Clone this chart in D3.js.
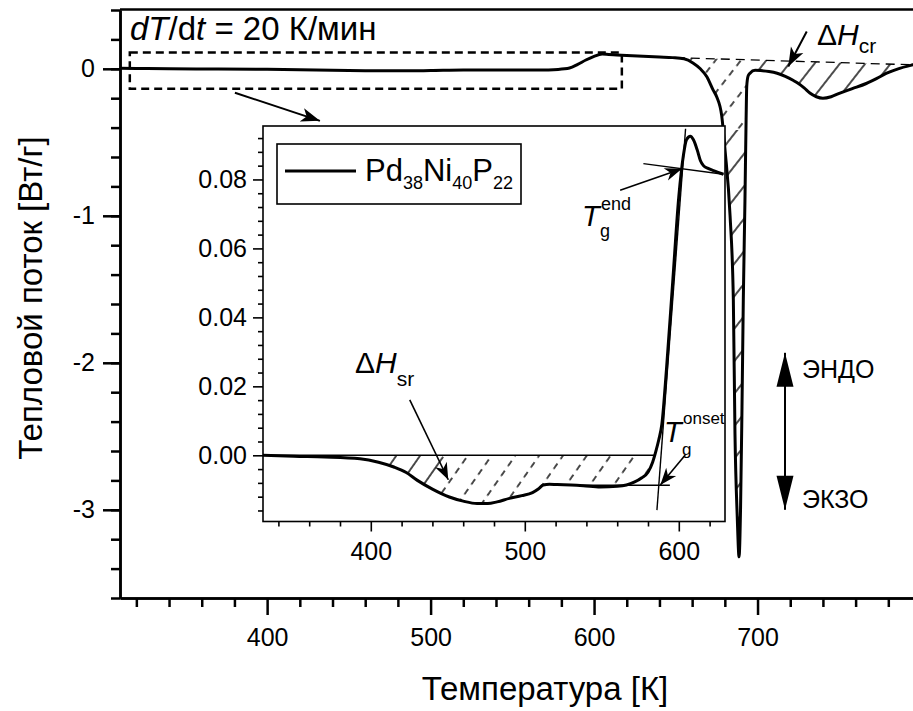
<!DOCTYPE html>
<html>
<head>
<meta charset="utf-8">
<script src="https://d3js.org/d3.v7.min.js"></script>
<style>
body { margin: 0; background: #fff; }
text { font-family: "Liberation Sans", Arial, sans-serif; fill: #000; }
</style>
</head>
<body>
<svg id="chart" width="913" height="711"></svg>
<script>
// main DSC curve, K vs W/g
var mainT = [310, 320, 340, 370, 400, 430, 460, 480, 500, 520, 545, 565, 578, 585, 590, 595, 600, 605, 609, 614, 620, 630, 640, 648, 655,
             660.5, 665, 668.9, 672.8, 675, 678.1, 680.1, 683.2, 685.2, 686.2, 687.6, 688.7, 689.6, 690.5, 691.3, 692.3, 693, 693.4, 694.2,
             695.4, 698.5, 702, 707, 712, 717, 722, 725, 728.5, 732, 736, 740, 745, 750, 758, 766.5, 773, 779, 786, 795, 800];
var mainQ = [0.003, 0.002, 0, -0.001, -0.003, -0.008, -0.013, -0.014, -0.012, -0.009, -0.009, -0.008, -0.004, 0.005, 0.03, 0.06, 0.085, 0.1, 0.097, 0.094, 0.09, 0.085, 0.08, 0.076, 0.068,
             0.04, 0, -0.052, -0.143, -0.19, -0.32, -0.55, -1.0, -1.57, -2.48, -3.05, -3.32, -3.0, -2.3, -1.57, -0.9, -0.35, -0.12, -0.05,
             -0.03, -0.01, -0.012, -0.018, -0.03, -0.052, -0.08, -0.1, -0.13, -0.165, -0.19, -0.2, -0.19, -0.167, -0.135, -0.1, -0.065, -0.03, 0, 0.027, 0.04];
var mainXTicks = [400, 500, 600, 700];
var mainYTicks = [0, -1, -2, -3];

// crystallization baseline (dashed)
var crBaseT = [650, 800];
var crBaseQ = [0.076, 0.0255];

// zoom box on the main plot
var boxT = [316, 617];
var boxQ = [-0.136, 0.111];

// inset curve
var insetT = [330, 350, 370, 393, 405, 415, 423, 430, 440, 451, 460, 469, 476, 482, 490, 498, 505, 509, 512, 516, 521, 530, 538, 549, 560,
              566, 571, 576, 580, 583, 585, 587, 589, 592, 596, 600, 603, 605, 607.5, 609.5, 612, 614, 616, 619, 623, 629];
var insetQ = [0, -0.0003, -0.0005, -0.001, -0.002, -0.0034, -0.005, -0.0072, -0.0098, -0.0121, -0.0133, -0.014, -0.014, -0.0135, -0.0125, -0.0117, -0.0108, -0.0097, -0.0086, -0.0084, -0.0085, -0.0086, -0.0088, -0.0092, -0.009,
              -0.0086, -0.0078, -0.0065, -0.0049, -0.002, 0.001, 0.0045, 0.009, 0.025, 0.05, 0.075, 0.087, 0.0915, 0.0925, 0.0915, 0.0885, 0.0855, 0.084, 0.0832, 0.0825, 0.0815];
var insetXTicks = [400, 500, 600];
var insetYTicks = [0, 0.02, 0.04, 0.06, 0.08];

// construction lines in the inset
var srBaseT = [330, 584], srBaseQ = [0, 0];
var tanEndT = [577, 629], tanEndQ = [0.0846, 0.0815];
var tanRiseT = [585.8, 604.4], tanRiseQ = [-0.0159, 0.0947];
var tanOnsetT = [520.7, 594.2], tanOnsetQ = [-0.0087, -0.0087];

var svg = d3.select("#chart");
var defs = svg.append("defs");

var x = d3.scaleLinear().domain([310, 800]).range([120, 921]);
var y = d3.scaleLinear().domain([-3.6, 0.4]).range([598, 10]);
var xi = d3.scaleLinear().domain([330, 630]).range([263, 725]);
var yi = d3.scaleLinear().domain([-0.0192, 0.0955]).range([521.5, 126]);

function zip(a, b) { return a.map(function(v, i) { return [v, b[i]]; }); }
function interp(ts, qs, t) {
  return qs[0] + (qs[1] - qs[0]) * (t - ts[0]) / (ts[1] - ts[0]);
}

// markers
function marker(id, d) {
  defs.append("marker").attr("id", id)
    .attr("viewBox", "-40 -20 42 40").attr("refX", 0).attr("refY", 0)
    .attr("markerWidth", 42).attr("markerHeight", 40)
    .attr("markerUnits", "userSpaceOnUse").attr("orient", "auto")
    .append("path").attr("d", d).attr("fill", "#000");
}
marker("arrN", "M0,0 L-19,-7 L-14,0 L-19,7 Z");
marker("arrS", "M0,0 L-17,-6.5 L-12,0 L-17,6.5 Z");
marker("arrB", "M0,0 L-34,-8.5 L-34,8.5 Z");

// hatch patterns
function hatch(id, w, ang, dash) {
  var p = defs.append("pattern").attr("id", id).attr("patternUnits", "userSpaceOnUse")
    .attr("width", w).attr("height", 12).attr("patternTransform", "rotate(" + ang + ")");
  var l = p.append("line").attr("x1", 1).attr("x2", 1).attr("y1", 0).attr("y2", 12)
    .attr("stroke", "#000").attr("stroke-width", 1.4);
  if (dash) l.attr("stroke-dasharray", "6.5,5.5");
}
hatch("hMain", 20, 38, false);
hatch("hMainD", 20, 38, true);
hatch("hIn", 19.5, 35, false);
hatch("hInD", 19.5, 35, true);

function clipRects(id, rects) {
  var c = defs.append("clipPath").attr("id", id);
  rects.forEach(function(r) { c.append("rect").attr("x", r[0]).attr("y", r[1]).attr("width", r[2]).attr("height", r[3]); });
}
clipRects("cMainD", [[0, 0, 747, 130]]);
clipRects("cMainS", [[0, 130, 913, 600], [747, 0, 200, 600]]);
clipRects("cInD", [[440, 0, 300, 600]]);
clipRects("cInS", [[0, 0, 440, 600]]);
clipRects("cInset", [[263, 126, 462, 395.5]]);

// ---------- main plot ----------
var main = svg.append("g");

// hatched crystallization area
var crPts = zip(mainT, mainQ).filter(function(d) { return d[0] >= 650 && d[0] <= 795; });
var crArea = d3.area().curve(d3.curveMonotoneX)
  .x(function(d) { return x(d[0]); })
  .y0(function(d) { return y(interp(crBaseT, crBaseQ, d[0])); })
  .y1(function(d) { return y(d[1]); });
main.append("g").attr("clip-path", "url(#cMainS)")
  .append("path").attr("d", crArea(crPts)).attr("fill", "url(#hMain)");
main.append("g").attr("clip-path", "url(#cMainD)")
  .append("path").attr("d", crArea(crPts)).attr("fill", "url(#hMainD)");

main.append("line")
  .attr("x1", x(crBaseT[0])).attr("y1", y(crBaseQ[0]))
  .attr("x2", x(crBaseT[1])).attr("y2", y(crBaseQ[1]))
  .attr("stroke", "#000").attr("stroke-width", 1.3).attr("stroke-dasharray", "9,6");

var line = d3.line().curve(d3.curveMonotoneX)
  .x(function(d) { return x(d[0]); }).y(function(d) { return y(d[1]); });
main.append("path").attr("d", line(zip(mainT, mainQ)))
  .attr("fill", "none").attr("stroke", "#000").attr("stroke-width", 3).attr("stroke-linejoin", "round");

// axes
var ax = main.append("g").attr("transform", "translate(0,598)")
  .call(d3.axisBottom(x).tickValues(mainXTicks).tickSize(17).tickSizeOuter(0));
main.append("g").attr("transform", "translate(0,598)")
  .call(d3.axisBottom(x).tickValues(d3.range(320, 800, 20).filter(function(v) { return v % 100; })).tickSize(9).tickFormat("").tickSizeOuter(0));
ax.selectAll("text").attr("y", 48).attr("dy", 0).attr("font-size", 25);

var ay = main.append("g").attr("transform", "translate(120,0)")
  .call(d3.axisLeft(y).tickValues(mainYTicks).tickSize(17).tickSizeOuter(0)
    .tickFormat(function(d) { return String(d); }));
main.append("g").attr("transform", "translate(120,0)")
  .call(d3.axisLeft(y).tickValues(d3.range(-18, 3).map(function(v) { return v * 0.2; })).tickSize(9).tickFormat("").tickSizeOuter(0));
ay.selectAll("text").attr("x", -25).attr("font-size", 25);
main.selectAll(".domain, .tick line").attr("stroke", "#000").attr("stroke-width", 2.5);
main.selectAll(".tick text").attr("fill", "#000").attr("font-family", "Liberation Sans, Arial, sans-serif");

main.append("line").attr("x1", 120).attr("x2", 913).attr("y1", 9.5).attr("y2", 9.5)
  .attr("stroke", "#000").attr("stroke-width", 2.5);

// dashed zoom box and pointer
main.append("rect")
  .attr("x", x(boxT[0])).attr("y", y(boxQ[1]))
  .attr("width", x(boxT[1]) - x(boxT[0])).attr("height", y(boxQ[0]) - y(boxQ[1]))
  .attr("fill", "none").attr("stroke", "#000").attr("stroke-width", 2.5).attr("stroke-dasharray", "8,5");
main.append("line").attr("x1", x(380.3)).attr("y1", y(-0.163)).attr("x2", x(432.3)).attr("y2", y(-0.354))
  .attr("stroke", "#000").attr("stroke-width", 2).attr("marker-end", "url(#arrN)");

// ΔH_cr pointer
main.append("line").attr("x1", x(730.1)).attr("y1", y(0.254)).attr("x2", x(718.8)).attr("y2", y(0.016))
  .attr("stroke", "#000").attr("stroke-width", 2).attr("marker-end", "url(#arrN)");

// endo / exo arrow
main.append("line").attr("x1", x(716.8)).attr("x2", x(716.8)).attr("y1", y(-2.6)).attr("y2", y(-1.932))
  .attr("stroke", "#000").attr("stroke-width", 2).attr("marker-end", "url(#arrB)");
main.append("line").attr("x1", x(716.8)).attr("x2", x(716.8)).attr("y1", y(-2.4)).attr("y2", y(-3.0))
  .attr("stroke", "#000").attr("stroke-width", 2).attr("marker-end", "url(#arrB)");

function rich(g, px, py, size, parts) {
  var t = g.append("text").attr("x", px).attr("y", py).attr("font-size", size);
  parts.forEach(function(p) {
    var s = t.append("tspan").text(p.t);
    if (p.i) s.attr("font-style", "italic");
    if (p.s) s.attr("font-size", p.s);
    if (p.dy) s.attr("dy", p.dy);
  });
  return t;
}

rich(main, 130, 40, 33, [{t: "d", i: 1}, {t: "T", i: 1}, {t: "/d"}, {t: "t", i: 1}, {t: " = 20 К/мин"}]);
rich(main, 817, 45, 30, [{t: "Δ"}, {t: "H", i: 1}, {t: "cr", s: 21, dy: 8}]);
main.append("text").attr("x", 802).attr("y", 378).attr("font-size", 25).text("ЭНДО");
main.append("text").attr("x", 802).attr("y", 508).attr("font-size", 25).text("ЭКЗО");

main.append("text").attr("x", 545).attr("y", 700).attr("text-anchor", "middle").attr("font-size", 33).text("Температура [К]");
main.append("text").attr("transform", "translate(42,298) rotate(-90)").attr("text-anchor", "middle")
  .attr("font-size", 33).text("Тепловой поток [Вт/г]");

// ---------- inset ----------
var ins = svg.append("g");
ins.append("rect").attr("x", 263).attr("y", 126).attr("width", 462).attr("height", 395.5)
  .attr("fill", "#fff");

var plot = ins.append("g").attr("clip-path", "url(#cInset)");
var srPts = zip(insetT, insetQ).filter(function(d) { return d[0] >= 405 && d[0] <= 584; });
var srArea = d3.area().curve(d3.curveMonotoneX)
  .x(function(d) { return xi(d[0]); }).y0(yi(0)).y1(function(d) { return yi(d[1]); });
plot.append("g").attr("clip-path", "url(#cInS)").append("path").attr("d", srArea(srPts)).attr("fill", "url(#hIn)");
plot.append("g").attr("clip-path", "url(#cInD)").append("path").attr("d", srArea(srPts)).attr("fill", "url(#hInD)");

[[srBaseT, srBaseQ], [tanEndT, tanEndQ], [tanRiseT, tanRiseQ], [tanOnsetT, tanOnsetQ]].forEach(function(s) {
  plot.append("line").attr("x1", xi(s[0][0])).attr("y1", yi(s[1][0])).attr("x2", xi(s[0][1])).attr("y2", yi(s[1][1]))
    .attr("stroke", "#000").attr("stroke-width", 1.4);
});

var lineI = d3.line().curve(d3.curveMonotoneX)
  .x(function(d) { return xi(d[0]); }).y(function(d) { return yi(d[1]); });
plot.append("path").attr("d", lineI(zip(insetT, insetQ)))
  .attr("fill", "none").attr("stroke", "#000").attr("stroke-width", 3).attr("stroke-linejoin", "round");

ins.append("rect").attr("x", 263).attr("y", 126).attr("width", 462).attr("height", 395.5)
  .attr("fill", "none").attr("stroke", "#000").attr("stroke-width", 1.6);

var ix = ins.append("g").attr("transform", "translate(0,521.5)")
  .call(d3.axisBottom(xi).tickValues(insetXTicks).tickSize(10).tickSizeOuter(0));
ins.append("g").attr("transform", "translate(0,521.5)")
  .call(d3.axisBottom(xi).tickValues(d3.range(340, 630, 20).filter(function(v) { return v % 100; })).tickSize(5).tickFormat("").tickSizeOuter(0));
ix.selectAll("text").attr("y", 38.5).attr("dy", 0).attr("font-size", 25);

var iy = ins.append("g").attr("transform", "translate(263,0)")
  .call(d3.axisLeft(yi).tickValues(insetYTicks).tickSize(10).tickSizeOuter(0).tickFormat(d3.format(".2f")));
ins.append("g").attr("transform", "translate(263,0)")
  .call(d3.axisLeft(yi).tickValues(d3.range(-4, 24).map(function(v) { return v * 0.004; }).filter(function(v, i) { return (i % 5) !== 4; }))
    .tickSize(5).tickFormat("").tickSizeOuter(0));
iy.selectAll("text").attr("x", -16).attr("font-size", 25);
ins.selectAll(".domain").remove();
ins.selectAll(".tick line").attr("stroke", "#000").attr("stroke-width", 1.6);
ins.selectAll(".tick text").attr("fill", "#000").attr("font-family", "Liberation Sans, Arial, sans-serif");

// legend
ins.append("rect").attr("x", 277).attr("y", 144).attr("width", 244).attr("height", 60)
  .attr("fill", "#fff").attr("stroke", "#000").attr("stroke-width", 1.6);
ins.append("line").attr("x1", 285).attr("x2", 356).attr("y1", 171).attr("y2", 171)
  .attr("stroke", "#000").attr("stroke-width", 3);
rich(ins, 365, 181, 31, [{t: "Pd"}, {t: "38", s: 18, dy: 8}, {t: "Ni", dy: -8}, {t: "40", s: 18, dy: 8}, {t: "P", dy: -8}, {t: "22", s: 18, dy: 8}]);

// inset annotations
rich(ins, 355, 373, 30, [{t: "Δ"}, {t: "H", i: 1}, {t: "sr", s: 21, dy: 13}]);
ins.append("line").attr("x1", xi(425.3)).attr("y1", yi(0.0161)).attr("x2", xi(450.3)).attr("y2", yi(-0.0071))
  .attr("stroke", "#000").attr("stroke-width", 1.6).attr("marker-end", "url(#arrS)");

ins.append("text").attr("x", 582).attr("y", 226).attr("font-size", 29).attr("font-style", "italic").text("T");
ins.append("text").attr("x", 601).attr("y", 210).attr("font-size", 18).text("end");
ins.append("text").attr("x", 600).attr("y", 237).attr("font-size", 18).text("g");
ins.append("line").attr("x1", xi(561.9)).attr("y1", yi(0.0769)).attr("x2", xi(602)).attr("y2", yi(0.0831))
  .attr("stroke", "#000").attr("stroke-width", 1.6).attr("marker-end", "url(#arrS)");

ins.append("text").attr("x", 664).attr("y", 442).attr("font-size", 29).attr("font-style", "italic").text("T");
ins.append("text").attr("x", 683).attr("y", 424).attr("font-size", 17).text("onset");
ins.append("text").attr("x", 682).attr("y", 455).attr("font-size", 17).text("g");
ins.append("line").attr("x1", xi(604.2)).attr("y1", yi(0.0001)).attr("x2", xi(588)).attr("y2", yi(-0.0086))
  .attr("stroke", "#000").attr("stroke-width", 1.6).attr("marker-end", "url(#arrS)");
</script>
</body>
</html>
